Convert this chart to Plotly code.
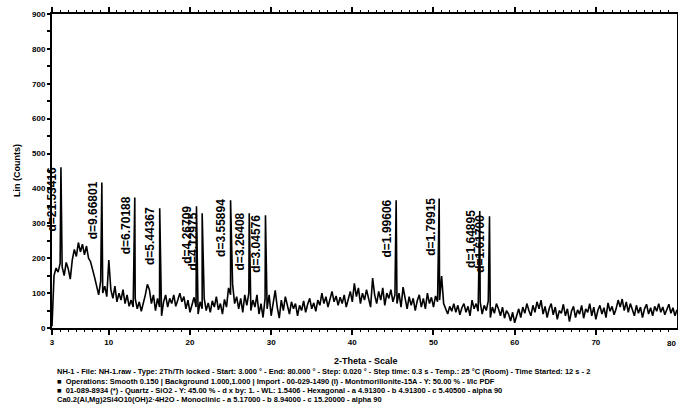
import numpy as np
import plotly.graph_objects as go

# ---------------- data ----------------
scan_start = 3.0          # 2-Theta of first point
scan_step = 0.25          # 2-Theta step

background_counts = [
    5, 150, 172, 160, 185, 175, 150, 188, 170, 140, 195, 225, 205, 245, 218, 240, 210, 235, 200, 190,
    170, 145, 120, 95, 135, 100, 120, 90, 195, 110, 85, 120, 75, 100, 80, 110, 70, 95, 62, 80,
    60, 85, 55, 75, 48, 70, 95, 125, 110, 70, 95, 50, 85, 60, 35, 75, 95, 60, 85, 70,
    95, 62, 80, 100, 75, 90, 55, 80, 45, 70, 88, 60, 40, 75, 55, 85, 50, 72, 45, 78,
    60, 90, 52, 70, 40, 82, 60, 115, 95, 125, 70, 90, 55, 85, 45, 95, 65, 100, 50, 80,
    60, 95, 40, 70, 30, 85, 55, 95, 35, 75, 108, 60, 28, 80, 50, 90, 62, 40, 75, 55,
    70, 35, 65, 50, 78, 45, 68, 85, 55, 72, 48, 80, 65, 100, 70, 90, 60, 82, 105, 75,
    92, 65, 88, 70, 95, 60, 85, 105, 75, 128, 90, 115, 70, 100, 80, 110, 85, 60, 143, 95,
    70, 105, 80, 115, 65, 100, 85, 110, 75, 95, 70, 100, 60, 117, 80, 55, 90, 65, 85, 50,
    78, 95, 60, 85, 55, 100, 70, 88, 60, 92, 75, 80, 149, 70, 55, 40, 62, 48, 70, 45,
    65, 38, 58, 70, 45, 62, 35, 80, 55, 70, 48, 75, 40, 65, 50, 78, 30, 60, 42, 70,
    55, 35, 60, 28, 50, 40, 20, 45, 15, 38, 55, 30, 60, 42, 70, 50, 35, 65, 45, 75,
    55, 80, 40, 62, 30, 55, 70, 38, 60, 25, 50, 42, 68, 35, 55, 18, 48, 62, 30, 52,
    40, 65, 28, 55, 45, 70, 35, 60, 25, 50, 65, 40, 58, 30, 72, 48, 62, 38, 55, 80,
    60, 83, 50, 75, 45, 70, 55, 35, 65, 42, 60, 30, 55, 68, 40, 58, 35, 62, 48, 70,
    45, 60, 38, 55, 68, 42, 58, 35, 52,
]

peak_two_theta = [4.1, 9.14, 13.2, 16.27, 20.8, 21.5, 25.0, 27.3, 29.3, 45.4, 50.7, 55.7, 56.9]
peak_counts = [461, 417, 374, 343, 349, 329, 366, 329, 323, 366, 371, 335, 320]
peak_labels = ["d=21.53416", "d=9.66801", "d=6.70188", "d=5.44367", "d=4.26709",
               "d=4.12975", "d=3.55894", "d=3.26408", "d=3.04576", "d=1.99606",
               "d=1.79915", "d=1.64895", "d=1.61700"]

x_tick_values = [3, 10, 20, 30, 40, 50, 60, 70, 80]
x_tick_labels = ["3", "10", "20", "30", "40", "50", "60", "70", "80"]
y_tick_values = [0, 100, 200, 300, 400, 500, 600, 700, 800, 900]

x_title = "2-Theta - Scale"
y_title = "Lin (Counts)"
legend_lines = [
    "NH-1 - File: NH-1.raw - Type: 2Th/Th locked - Start: 3.000 ° - End: 80.000 ° - Step: 0.020 ° - Step time: 0.3 s - Temp.: 25 °C (Room) - Time Started: 12 s - 2",
    "■  Operations: Smooth 0.150 | Background 1.000,1.000 | Import - 00-029-1490 (I) - Montmorillonite-15A - Y: 50.00 % - I/Ic PDF",
    "■  01-089-8934 (*) - Quartz - SiO2 - Y: 45.00 % - d x by: 1. - WL: 1.5406 - Hexagonal - a 4.91300 - b 4.91300 - c 5.40500 - alpha 90",
    "Ca0.2(Al,Mg)2Si4O10(OH)2·4H2O - Monoclinic - a 5.17000 - b 8.94000 - c 15.20000 - alpha 90",
]

# ---------------- build the trace ----------------
bg_x = scan_start + scan_step * np.arange(len(background_counts))
x_all = np.concatenate([bg_x, np.array(peak_two_theta)])
y_all = np.concatenate([np.array(background_counts, dtype=float), np.array(peak_counts, dtype=float)])
order = np.argsort(x_all, kind="stable")
x_all, y_all = x_all[order], y_all[order]

fig = go.Figure()
fig.add_trace(go.Scatter(x=x_all, y=y_all, mode="lines",
                         line=dict(color="black", width=1.6), hoverinfo="skip",
                         showlegend=False))

# peak d-spacing labels (vertical text left of each peak)
for px_, py_, lab in zip(peak_two_theta, peak_counts, peak_labels):
    fig.add_annotation(x=px_, y=py_, xref="x", yref="y", text=lab,
                       textangle=-90, showarrow=False, xanchor="right", yanchor="top",
                       xshift=0, yshift=3,
                       font=dict(family="Liberation Sans", size=12, color="black", weight="bold"))

# last x tick label kept inside the page
fig.add_annotation(x=80, y=0, xref="x", yref="y", text=x_tick_labels[-1], showarrow=False,
                   xanchor="right", yanchor="top", xshift=1, yshift=-9,
                   font=dict(family="Liberation Sans", size=8, color="black", weight="bold"))

# axis titles
fig.add_annotation(x=0.5024, y=-0.105, xref="paper", yref="paper", text=x_title,
                   showarrow=False, xanchor="center", yanchor="middle",
                   font=dict(family="Liberation Sans", size=9, color="black", weight="bold"))
fig.add_annotation(x=-0.056, y=0.50, xref="paper", yref="paper", text=y_title,
                   textangle=-90, showarrow=False, xanchor="center", yanchor="middle",
                   font=dict(family="Liberation Sans", size=9, color="black", weight="bold"))

# legend block under the chart
legend_y = [-0.140, -0.169, -0.199, -0.229]
for line, ly in zip(legend_lines, legend_y):
    fig.add_annotation(x=0.005, y=ly, xref="paper", yref="paper", text=line,
                       showarrow=False, xanchor="left", yanchor="middle",
                       font=dict(family="Liberation Sans", size=7.5, color="black", weight="bold"))

axis_common = dict(showgrid=False, zeroline=False, showline=True, linecolor="black",
                   linewidth=2, ticks="outside", tickcolor="black", tickwidth=2,
                   mirror="allticks", automargin=False,
                   tickfont=dict(family="Liberation Sans", size=8, color="black", weight="bold"))

fig.update_xaxes(range=[3, 80], tickvals=x_tick_values[:-1], ticktext=x_tick_labels[:-1], ticklen=5,
                 minor=dict(tickvals=list(range(4, 80)), ticklen=2, tickwidth=1, tickcolor="black",
                            ticks="outside", showgrid=False),
                 **axis_common)
fig.update_yaxes(range=[0, 900], tickvals=y_tick_values, ticklen=3,
                 minor=dict(dtick=50, tick0=0, ticklen=3, tickwidth=2, tickcolor="black",
                            ticks="outside", showgrid=False),
                 **axis_common)

fig.update_layout(width=678, height=406, margin=dict(l=52, r=1, t=14, b=78),
                  plot_bgcolor="white", paper_bgcolor="white", showlegend=False)

fig.write_html("out.html", config={"displayModeBar": False},
               post_script="document.body.style.margin='0px';document.body.style.overflow='hidden';")
